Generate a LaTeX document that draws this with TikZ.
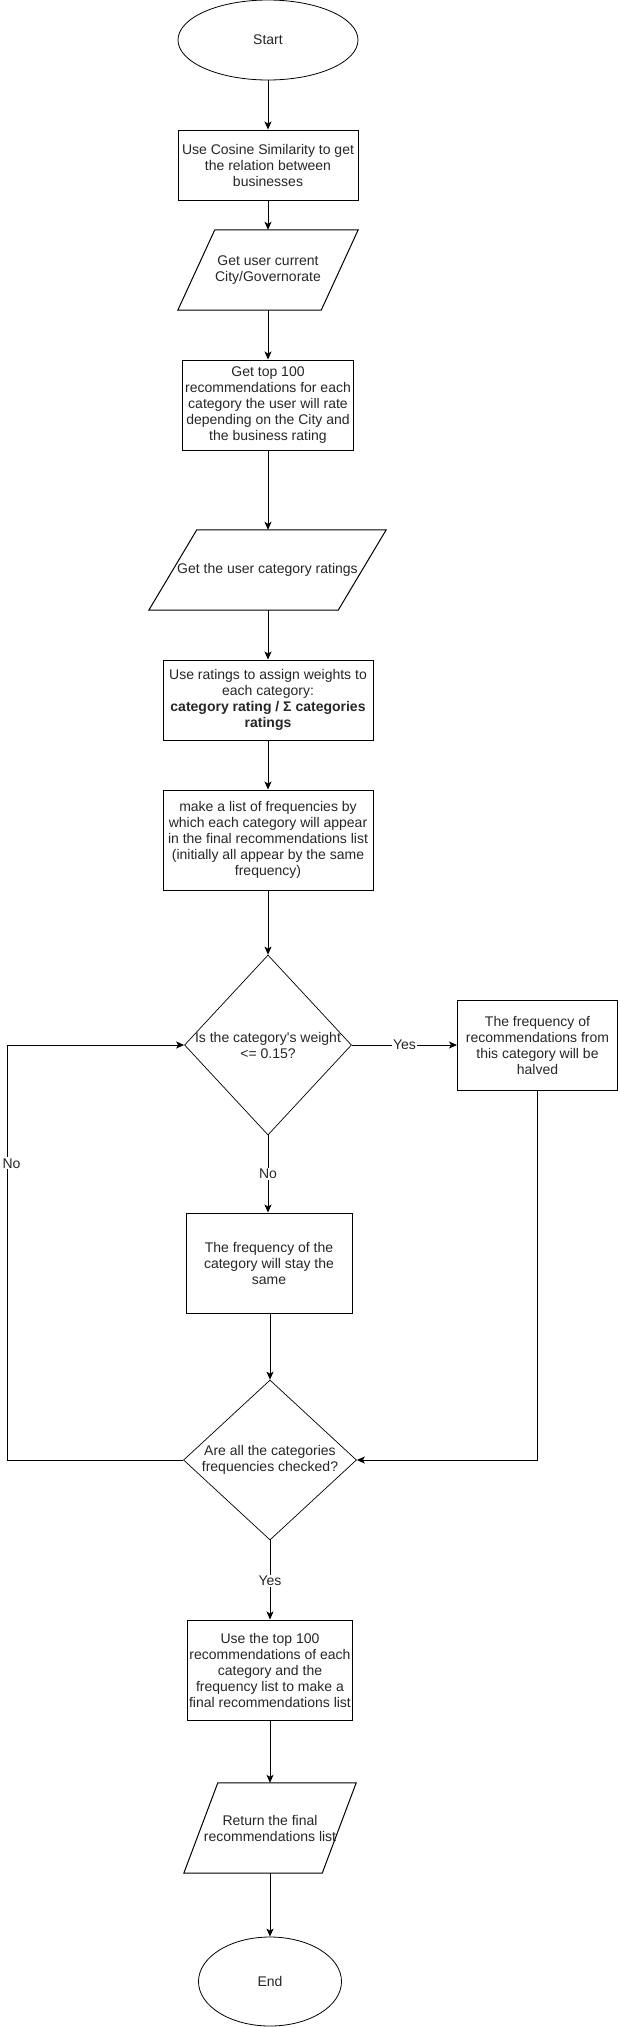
\documentclass[tikz,border=0pt]{standalone}
\usepackage{fontspec}
\setmainfont{Liberation Sans}
\usetikzlibrary{shapes.geometric,arrows.meta,calc}
\begin{document}
\begin{tikzpicture}[x=1pt,y=-1pt,
  every node/.style={font=\fontsize{14}{16}\selectfont, align=center, inner sep=0pt, text=black!85},
  box/.style={draw, rectangle, line width=1pt},
  oval/.style={draw, ellipse, line width=0.8pt},
  dia/.style={draw, diamond, line width=0.7pt},
  para/.style={rectangle},
  pline/.style={line width=1pt},
  lab/.style={fill=white, inner sep=1pt},
  arr/.style={-{Stealth[length=8pt,width=7pt,inset=2pt]}, line width=1pt}]
\useasboundingbox (0,0) rectangle (619,2027);

% nodes
\node[oval, minimum width=180, minimum height=80] (start) at (268,40) {Start};
\node[box, minimum width=180, minimum height=70] (b2) at (268,165) {Use Cosine Similarity to get\\the relation between\\businesses};
\node[para, minimum width=180, minimum height=80] (p1) at (268,270) {Get user current\\City/Governorate};
\node[box, minimum width=171, minimum height=90] (b4) at (268,405) {Get top 100\\recommendations for each\\category the user will rate\\depending on the City and\\the business rating};
\node[para, minimum width=237, minimum height=80] (p2) at (267.5,570) {Get the user category ratings};
\node[box, minimum width=210, minimum height=80] (b6) at (268,700) {Use ratings to assign weights to\\each category:\\\textbf{category rating / Σ categories}\\\textbf{ratings}};
\node[box, minimum width=210, minimum height=100] (b7) at (268,840) {make a list of frequencies by\\which each category will appear\\in the final recommendations list\\(initially all appear by the same\\frequency)};
\node[dia, minimum width=167, minimum height=180] (d1) at (268,1045) {};
\node (d1t) at (d1.center) {Is the category\textquotesingle s weight\\<= 0.15?};
\node[box, minimum width=160, minimum height=90] (rb) at (537.5,1045) {The frequency of\\recommendations from\\this category will be\\halved};
\node[box, minimum width=166, minimum height=100] (b10) at (269,1263) {The frequency of the\\category will stay the\\same};
\node[dia, minimum width=173, minimum height=160] (d2) at (270,1460) {};
\node (d2t) at (d2.center) {Are all the categories\\frequencies checked?};
\node[box, minimum width=165, minimum height=100] (b12) at (270,1670) {Use the top 100\\recommendations of each\\category and the\\frequency list to make a\\final recommendations list};
\node[para, minimum width=172, minimum height=90] (p3) at (270,1828) {Return the final\\recommendations list};
\node[oval, minimum width=143, minimum height=89] (end) at (270,1981.5) {End};

% parallelograms
\draw[pline] ($(p1.north west)+(37,0)$) -- (p1.north east) -- ($(p1.south east)+(-37,0)$) -- (p1.south west) -- cycle;
\draw[pline] ($(p2.north west)+(48,0)$) -- (p2.north east) -- ($(p2.south east)+(-48,0)$) -- (p2.south west) -- cycle;
\draw[pline] ($(p3.north west)+(34,0)$) -- (p3.north east) -- ($(p3.south east)+(-34,0)$) -- (p3.south west) -- cycle;

% loop corner coordinates
\coordinate (lc1) at (7,1460);
\coordinate (lc2) at (7,1045);

% connectors
\draw[arr] (start.south) -- (start.south |- b2.north);
\draw[arr] (b2.south) -- (b2.south |- p1.north);
\draw[arr] (p1.south) -- (p1.south |- b4.north);
\draw[arr] (b4.south) -- (b4.south |- p2.north);
\draw[arr] (b4.south |- p2.south) -- (b4.south |- b6.north);
\draw[arr] (b6.south) -- (b6.south |- b7.north);
\draw[arr] (b7.south) -- (b7.south |- d1.north);
\draw[arr] (d1.east) -- node[lab]{Yes} (rb.west);
\draw[arr] (d1.south) -- node[lab, pos=0.5]{No} (d1.south |- b10.north);
\draw[arr] (b10.south) -- (b10.south -| d2.north) -- (d2.north);
\draw[arr] (rb.south) |- (d2.east);
\draw[arr] (d2.west) -- (lc1) -- node[lab, pos=0.715, xshift=4.5pt]{No} (lc2) -- (d1.west);
\draw[arr] (d2.south) -- node[lab, pos=0.51]{Yes} (d2.south |- b12.north);
\draw[arr] (b12.south) -- (b12.south |- p3.north);
\draw[arr] (p3.south) -- (p3.south |- end.north);
\end{tikzpicture}
\end{document}
